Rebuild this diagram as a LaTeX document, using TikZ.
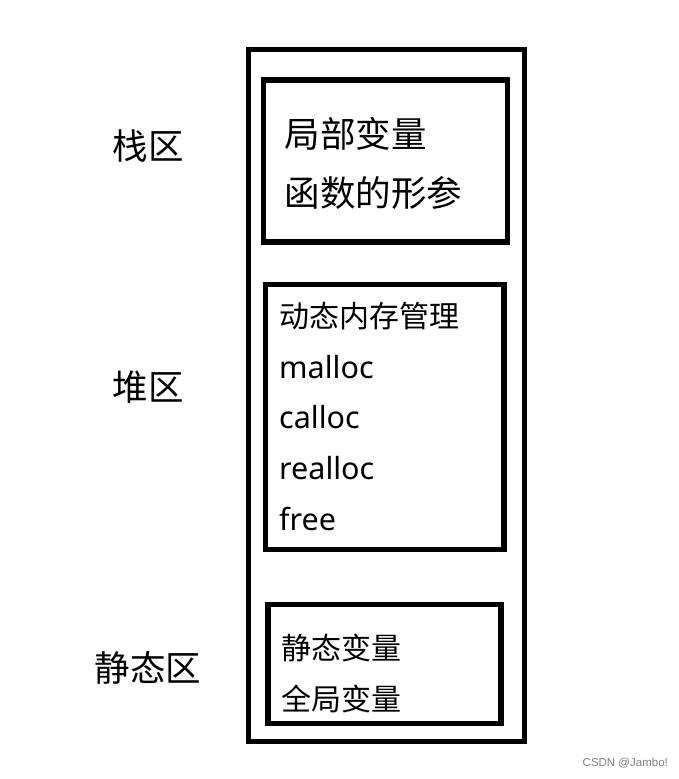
\documentclass[tikz,border=0pt]{standalone}
\usepackage{fontspec}
\setmainfont{Noto Sans CJK SC}
\newfontfamily\latinfont{Noto Sans}
\newfontfamily\markfont{Liberation Sans}
\begin{document}
\begin{tikzpicture}[x=1pt, y=-1pt, every node/.style={inner sep=0pt, font=\fontsize{30}{36}\selectfont},
    box/.style={draw, line width=5.5pt, rectangle},
    big/.style={font=\fontsize{35.5}{42}\selectfont}]
    \useasboundingbox (0,0) rectangle (678,779);
    % memory and its three regions
    \node[box, minimum width=276, minimum height=692] (mem) at (386.4,395.7) {};
    \node[box, minimum width=244, minimum height=162] (stack) at (385.6,160.9) {};
    \node[box, minimum width=238.5, minimum height=265] (heap) at (384.8,417.1) {};
    \node[box, minimum width=233, minimum height=119] (static) at (384.5,663.9) {};
    % region names
    \node[big] (stacklbl) at (148,146.5) {栈区};
    \node[big] (heaplbl) at (148,387.5) {堆区};
    \node[big] (staticlbl) at (148,667.5) {静态区};
    % stack contents
    \node[big, anchor=west] (local) at (284.5,134) {局部变量};
    \node[big, anchor=west] (param) at (284.5,193) {函数的形参};
    % heap contents
    \node[anchor=west] (dyn) at (279.3,316.5) {动态内存管理};
    \foreach \y/\fn in {378.3/malloc, 428.3/calloc, 479.3/realloc, 530/free}
        \node[anchor=base west, font=\fontsize{30.5}{36}\latinfont] (\fn) at (279,\y) {\fn};
    % static contents
    \node[anchor=west] (svar) at (281.7,648) {静态变量};
    \node[anchor=west] (gvar) at (281.7,698.5) {全局变量};
    \node[anchor=west, font=\fontsize{11.5}{13}\markfont, text=gray] (mark) at (582.5,763.3) {CSDN @Jambo!};
\end{tikzpicture}
\end{document}
